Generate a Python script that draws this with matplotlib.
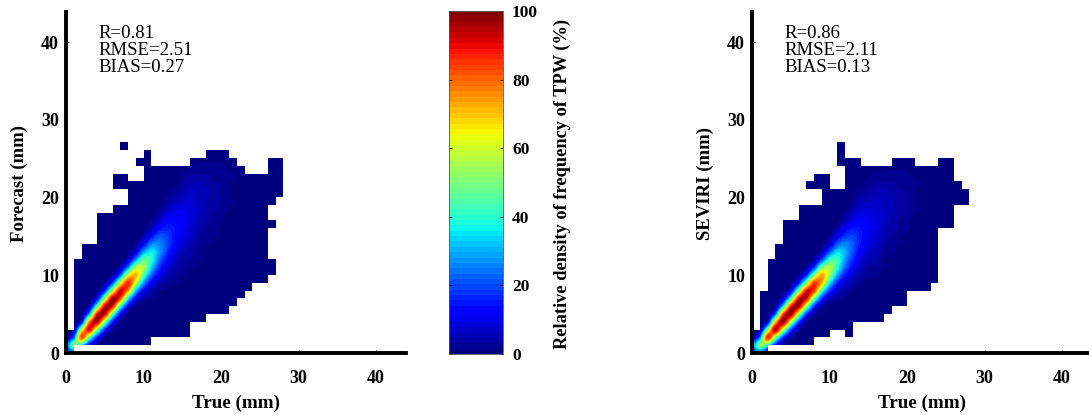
import numpy as np
import matplotlib
matplotlib.use("Agg")
import matplotlib.pyplot as plt
from matplotlib.colors import ListedColormap, Normalize
from matplotlib.cm import ScalarMappable

plt.rcParams['font.family'] = ['Liberation Serif', 'DejaVu Serif']

# density: one (first Y in mm, values upward) pair per True (mm) column
density_forecast = [
 (0, [15,20,8,2]),
 (0, [15,49,22,1]),
 (0, [3,35,83,58,11,1]),
 (1, [11,47,91,77,29,5,1]),
 (1, [2,16,53,95,89,44,11,2]),
 (2, [3,17,53,93,93,53,17,3]),
 (3, [3,15,49,90,96,57,20,4,1]),
 (4, [2,13,43,83,92,60,22,5,1]),
 (5, [2,12,38,75,87,61,26,6,1]),
 (6, [2,11,32,60,72,55,27,9,2]),
 (7, [4,12,28,46,55,46,28,12,4,1]),
 (7, [2,5,12,23,34,40,36,25,14,5,2]),
 (7, [1,2,5,11,18,24,28,26,21,13,7,3,1]),
 (8, [1,3,5,9,14,18,20,19,16,12,8,4,2,1]),
 (9, [2,3,5,7,10,13,14,14,12,10,7,4,2,1]),
 (9, [1,2,3,4,6,8,10,11,11,10,8,6,4,3,2]),
 (10, [1,2,3,4,5,7,8,9,9,8,7,6,4,3,2]),
 (11, [1,2,2,3,4,5,6,7,7,6,6,5,3,2]),
 (11, [1,1,1,2,2,3,4,4,5,5,5,4,3,2,1]),
 (13, [1,1,2,2,3,3,4,4,4,3,3,2,1]),
 (14, [1,1,1,2,2,3,3,3,3,2,2,1]),
 (16, [1,1,1,2,2,2,2,2,1]),
 (18, [1,1,1,1,1,1]),
]
density_seviri = [
 (0, [15,20,8,2]),
 (0, [18,52,24,2]),
 (0, [5,40,88,50,8,1]),
 (0, [1,13,53,96,68,22,3,1]),
 (1, [2,18,60,98,82,34,8,1]),
 (2, [4,20,61,97,87,41,10,1]),
 (3, [4,20,58,96,90,49,15,3]),
 (4, [3,18,55,92,89,50,16,3]),
 (5, [4,18,50,84,84,50,18,4]),
 (6, [4,17,44,71,73,48,20,5,1]),
 (7, [6,18,37,54,56,41,21,7,2]),
 (7, [3,7,16,29,40,42,34,21,11,4,1]),
 (7, [1,4,8,15,23,28,30,26,18,11,5,2]),
 (8, [2,4,7,12,17,20,21,19,15,10,6,3,1]),
 (9, [2,4,6,9,12,14,15,14,12,9,6,4,2,1]),
 (9, [1,2,3,5,7,9,10,11,11,9,7,5,3,2,1]),
 (9, [1,2,3,4,5,7,8,9,9,8,7,6,4,3,2]),
 (10, [1,2,2,3,4,5,6,7,7,6,6,5,3,2]),
 (10, [1,1,1,2,2,3,4,4,5,5,5,4,3,2,1]),
 (12, [1,1,2,2,3,3,4,4,4,3,3,2,1]),
 (13, [1,1,1,2,2,3,3,3,3,2,2,1]),
 (15, [1,1,1,2,2,2,2,2,1]),
 (17, [1,1,1,1,1,1]),
]

# occupied Y intervals for each 1 mm wide True column (outline of the coloured area)
occupied_forecast = [
 [(0,3)],[(1,12)],[(1,14)],[(1,14)],[(1,18)],[(1,18)],[(1,19),(21,23)],
 [(1,19),(21,23),(26,27)],[(1,22)],[(1,22),(24,25)],[(1,26)],[(2,24)],
 [(2,24)],[(2,24)],[(2,24)],[(2,24)],[(4,25)],[(4,25)],[(5,26)],[(5,26)],
 [(5,26)],[(6,25)],[(7,24)],[(8,23)],[(9,23)],[(9,23)],
 [(10,12),(16,17),(19,25)],[(20,25)],
]
occupied_seviri = [
 [(0,3)],[(0,8)],[(1,12)],[(1,14)],[(1,17)],[(1,17)],[(1,19)],
 [(1,19),(21,22)],[(2,19),(21,23)],[(2,23)],[(3,21)],[(3,21),(24,27)],
 [(2,25)],[(4,25)],[(4,24)],[(4,24)],[(4,24)],[(5,24)],[(6,25)],[(6,25)],
 [(8,25)],[(8,24)],[(8,24)],[(9,24)],[(16,25)],[(16,25)],[(19,22)],[(19,21)],
]

x_ticks = [0, 10, 20, 30, 40]
y_ticks = [0, 10, 20, 30, 40]
cbar_ticks = [0, 20, 40, 60, 80, 100]
x_label = "True (mm)"
cbar_label = "Relative density of frequency of TPW (%)"
panel_ylabels = ["Forecast (mm)", "SEVIRI (mm)"]
panel_stats = [["R=0.81", "RMSE=2.51", "BIAS=0.27"], ["R=0.86", "RMSE=2.11", "BIAS=0.13"]]

W, H = 1089, 415
fig = plt.figure(figsize=(W/100, H/100), dpi=100)
FS = 13
cmap = plt.get_cmap('jet', 64)
norm = Normalize(0, 100)


def px_axes(l, t, r, b):
    return fig.add_axes([l/W, 1-b/H, (r-l)/W, (b-t)/H])


def to_grid(cols, n=30):
    g = np.zeros((n, n))
    for i, (start, vals) in enumerate(cols):
        g[start:start+len(vals), i] = vals
    return g


def outside_mask(occ, n=30):
    inside = np.zeros((n, n), bool)
    for i, spans in enumerate(occ):
        for a, b in spans:
            inside[a:b, i] = True
    return np.ma.masked_where(inside, np.ones((n, n)))


def panel(left, cols, occ, ylabel, stats):
    ax = px_axes(left, 12, left+340, 353)
    ax.imshow(to_grid(cols), origin='lower', extent=(-0.5, 29.5, -0.5, 29.5), aspect='auto',
              cmap=cmap, norm=norm, interpolation='catrom', zorder=1)
    ax.imshow(outside_mask(occ), origin='lower', extent=(0, 30, 0, 30), aspect='auto',
              cmap=ListedColormap(['white']), interpolation='nearest', zorder=2)
    ax.set_xlim(0, 340/7.75)
    ax.set_ylim(0, 341/7.77)
    for s in ('top', 'right'):
        ax.spines[s].set_visible(False)
    for s in ('left', 'bottom'):
        ax.spines[s].set_linewidth(2.8)
        ax.spines[s].set_zorder(5)
    ax.set_xticks(x_ticks)
    ax.set_yticks(y_ticks)
    ax.tick_params(direction='in', length=2.5, width=0.6, labelsize=FS)
    ax.tick_params(axis='x', pad=12)
    ax.tick_params(axis='y', pad=5)
    for t in ax.get_xticklabels() + ax.get_yticklabels():
        t.set_fontweight('bold')
    fig.text((left+170.5)/W, 1-403/H, x_label, fontsize=13.7, fontweight='bold',
             ha='center', va='center')
    fig.text((left-47)/W, 1-183/H, ylabel, rotation=90, fontsize=13.5, fontweight='bold',
             ha='center', va='center')
    for txt, y in zip(stats, (33.5, 50.5, 67.5)):
        fig.text((left+32)/W, 1-y/H, txt, fontsize=13.5, ha='left', va='center')


panel(66, density_forecast, occupied_forecast, panel_ylabels[0], panel_stats[0])
panel(752, density_seviri, occupied_seviri, panel_ylabels[1], panel_stats[1])

cax = px_axes(449, 11, 503, 354)
cb = fig.colorbar(ScalarMappable(norm=norm, cmap=cmap), cax=cax)
cb.set_ticks(cbar_ticks)
cb.outline.set_linewidth(0.6)
cb.outline.set_edgecolor('#555555')
cax.tick_params(direction='in', length=2, width=0.6, labelsize=12.5, pad=6.5,
                left=True, right=True)
for t in cax.get_yticklabels():
    t.set_fontweight('bold')
fig.text(562/W, 1-184/H, cbar_label, rotation=90, fontsize=13.2, fontweight='bold',
         ha='center', va='center')

fig.savefig('out.png', dpi=100)
